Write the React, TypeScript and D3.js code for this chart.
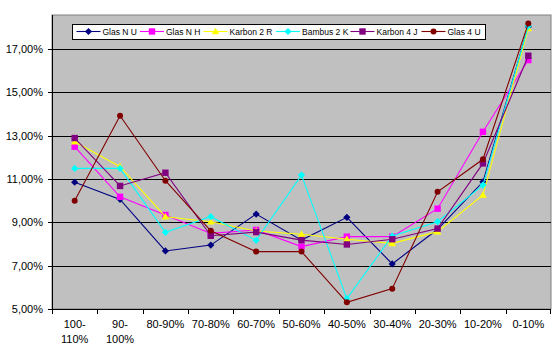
import React from "react";
import * as d3 from "d3";

const categories = ["100-110%", "90-100%", "80-90%", "70-80%", "60-70%", "50-60%", "40-50%", "30-40%", "20-30%", "10-20%", "0-10%"];
const seriesNames = ["Glas N U", "Glas N H", "Karbon 2 R", "Bambus 2 K", "Karbon 4 J", "Glas 4 U"];
const glasNU = [10.85, 10.06, 7.68, 7.95, 9.38, 8.18, 9.23, 7.08, 8.68, 10.87, 18.03];
const glasNH = [12.49, 10.18, 9.34, 8.49, 8.65, 7.88, 8.34, 8.34, 9.63, 13.18, 16.49];
const karbon2R = [12.72, 11.57, 9.26, 9.03, 8.6, 8.45, 8.22, 8.03, 8.57, 10.26, 17.95];
const bambus2K = [11.49, 11.49, 8.54, 9.26, 8.17, 11.18, 5.48, 8.37, 9.03, 10.72, 18.06];
const karbon4J = [12.89, 10.68, 11.29, 8.38, 8.55, 8.18, 7.98, 8.22, 8.71, 11.72, 16.69];
const glas4U = [10.0, 13.92, 10.92, 8.61, 7.65, 7.65, 5.31, 5.94, 10.41, 11.91, 18.18];
const yTicks = [5, 7, 9, 11, 13, 15, 17];

const colors = ["#000080", "#FF00FF", "#FFFF00", "#00FFFF", "#800080", "#800000"];
const markers = ["diamond", "square", "triangle", "diamond", "square", "circle"];
const allValues = [glasNU, glasNH, karbon2R, bambus2K, karbon4J, glas4U];

const FONT = "'Liberation Sans', Arial, sans-serif";

function Marker({ kind, x, y, color }: { kind: string; x: number; y: number; color: string }) {
  if (kind === "square") return <rect x={x - 3.2} y={y - 3.2} width={6.4} height={6.4} fill={color} />;
  if (kind === "triangle") return <path d={`M${x},${y - 3.8}L${x + 3.8},${y + 2.8}L${x - 3.8},${y + 2.8}Z`} fill={color} />;
  if (kind === "circle") return <circle cx={x} cy={y} r={3} fill={color} />;
  return <path d={`M${x},${y - 3.6}L${x + 3.6},${y}L${x},${y + 3.6}L${x - 3.6},${y}Z`} fill={color} />;
}

export default function App() {
  const left = 52, right = 551, top = 15, bottom = 309;
  const x = d3.scaleBand<string>().domain(categories).range([left, right]);
  const y = d3.scaleLinear().domain([5, 18.57]).range([bottom, top]);
  const cx = (c: string) => (x(c) as number) + x.bandwidth() / 2;
  const line = d3.line<number>().x((_, i) => cx(categories[i])).y((d) => y(d));
  const legendX = [76.5, 140, 203.5, 276, 350.5, 421.5];
  const legendY = 31.5;

  return (
    <svg width={556} height={356} style={{ position: "absolute", left: 0, top: 0, background: "#fff" }} fontFamily={FONT}>
      <rect x={left} y={top} width={right - left} height={bottom - top} fill="#C0C0C0" stroke="#808080" strokeWidth={1} />
      {yTicks.slice(1).map((t) => (
        <line key={t} x1={left} x2={right} y1={Math.round(y(t)) + 0.5} y2={Math.round(y(t)) + 0.5} stroke="#000" strokeWidth={1} />
      ))}
      {/* axes */}
      <line x1={left + 0.5} x2={left + 0.5} y1={top} y2={bottom + 0.5} stroke="#000" />
      <line x1={left} x2={right} y1={bottom + 0.5} y2={bottom + 0.5} stroke="#000" />
      {yTicks.map((t) => (
        <g key={t}>
          <line x1={left - 4} x2={left + 4} y1={Math.round(y(t)) + 0.5} y2={Math.round(y(t)) + 0.5} stroke="#000" />
          <text x={43} y={y(t) + 4} textAnchor="end" fontSize={11} fill="#000">
            {t.toFixed(2).replace(".", ",") + "%"}
          </text>
        </g>
      ))}
      {categories.map((c, i) => (
        <line key={"t" + i} x1={Math.round(x(c) as number) + 0.5} x2={Math.round(x(c) as number) + 0.5} y1={bottom} y2={bottom + 5} stroke="#000" />
      ))}
      <line x1={right - 0.5} x2={right - 0.5} y1={bottom} y2={bottom + 5} stroke="#000" />
      {categories.map((c) => {
        const parts = c.length >= 7 ? [c.slice(0, c.indexOf("-") + 1), c.slice(c.indexOf("-") + 1)] : [c];
        return (
          <text key={c} x={cx(c)} y={328} textAnchor="middle" fontSize={11} fill="#000">
            {parts.map((p, j) => (
              <tspan key={j} x={cx(c)} dy={j === 0 ? 0 : 15}>{p}</tspan>
            ))}
          </text>
        );
      })}
      {allValues.map((vals, s) => (
        <g key={s}>
          <path d={line(vals) as string} fill="none" stroke={colors[s]} strokeWidth={1.1} />
          {vals.map((v, i) => (
            <Marker key={i} kind={markers[s]} x={cx(categories[i])} y={y(v)} color={colors[s]} />
          ))}
        </g>
      ))}
      {/* legend */}
      <rect x={72.5} y={24.5} width={413} height={15} fill="#fff" stroke="#000" />
      {seriesNames.map((n, s) => (
        <g key={n}>
          <line x1={legendX[s]} x2={legendX[s] + 24} y1={legendY} y2={legendY} stroke={colors[s]} strokeWidth={1.1} />
          <Marker kind={markers[s]} x={legendX[s] + 12} y={legendY} color={colors[s]} />
          <text x={legendX[s] + 26} y={legendY + 3} fontSize={8.5} fill="#000">{n}</text>
        </g>
      ))}
    </svg>
  );
}
